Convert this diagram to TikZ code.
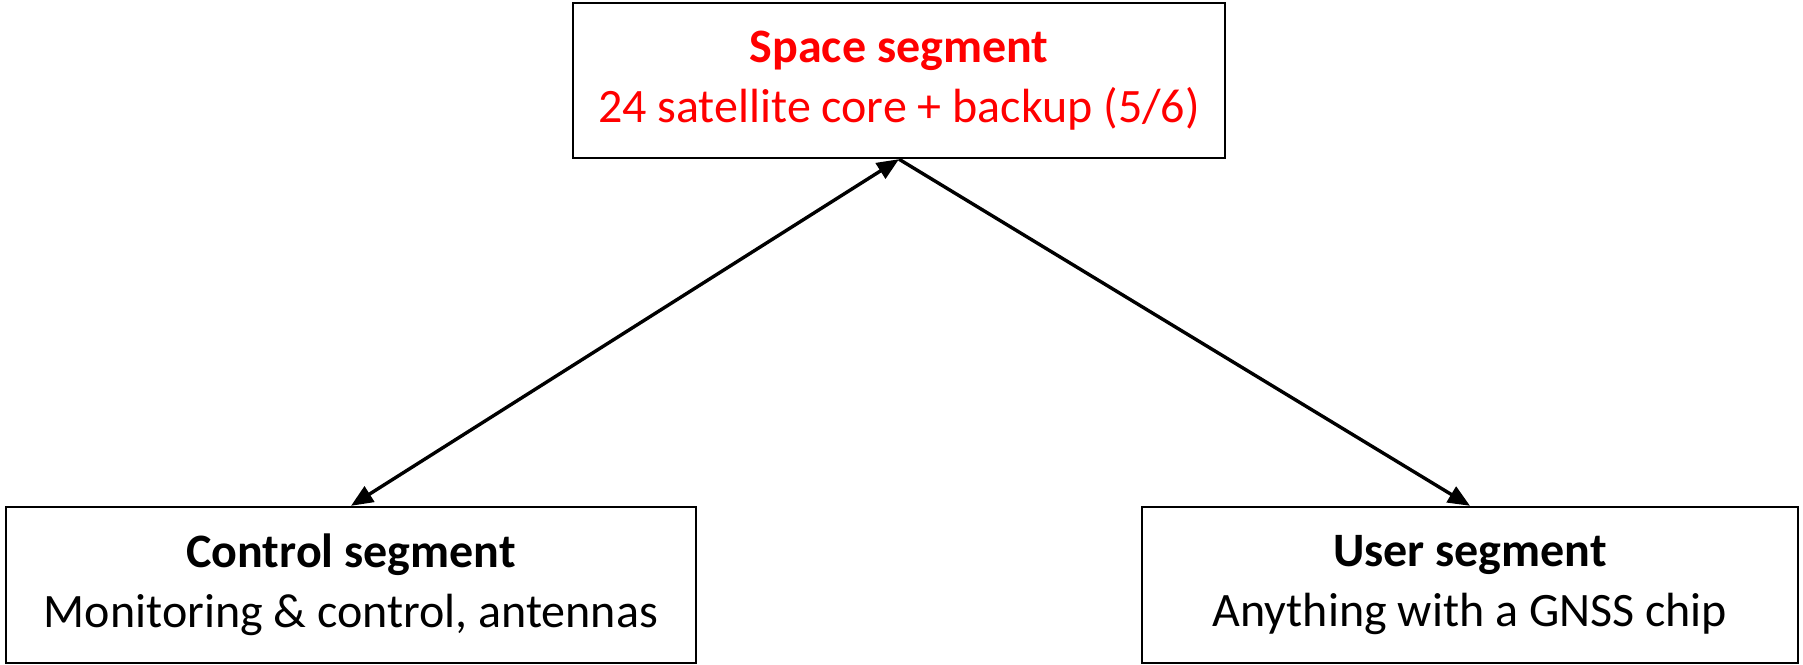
\documentclass[tikz,border=0pt]{standalone}
\usepackage{fontspec}
\setmainfont{Carlito}
\usetikzlibrary{arrows.meta}
\begin{document}
\begin{tikzpicture}[x=0.5pt,y=-0.5pt]
% Styles
\tikzset{segbox/.style={draw,line width=1.2pt,align=center,inner sep=0pt,
    font=\fontsize{24}{30}\selectfont},
  link/.style={line width=1.7pt,-{Triangle[length=11pt,width=9pt]}}}
\useasboundingbox (0,0) rectangle (1803,664);

% the three segments
\node [segbox,minimum width=326pt,minimum height=77.5pt,text=red]
  (space) at (899,80.5) {\textbf{Space segment}\\24 satellite core + backup (5/6)};
\node [segbox,minimum width=345pt,minimum height=78pt]
  (control) at (351,585) {\textbf{Control segment}\\Monitoring \& control, antennas};
\node [segbox,minimum width=328pt,minimum height=78pt]
  (user) at (1470,585) {\textbf{User segment}\\Anything with a GNSS chip};

% Draw arrows
\draw [link,{Triangle[length=11pt,width=9pt]}-{Triangle[length=11pt,width=9pt]}] (space.south) -- (control.north);
\draw [link] (space.south) -- (user.north);
\end{tikzpicture}
\end{document}
